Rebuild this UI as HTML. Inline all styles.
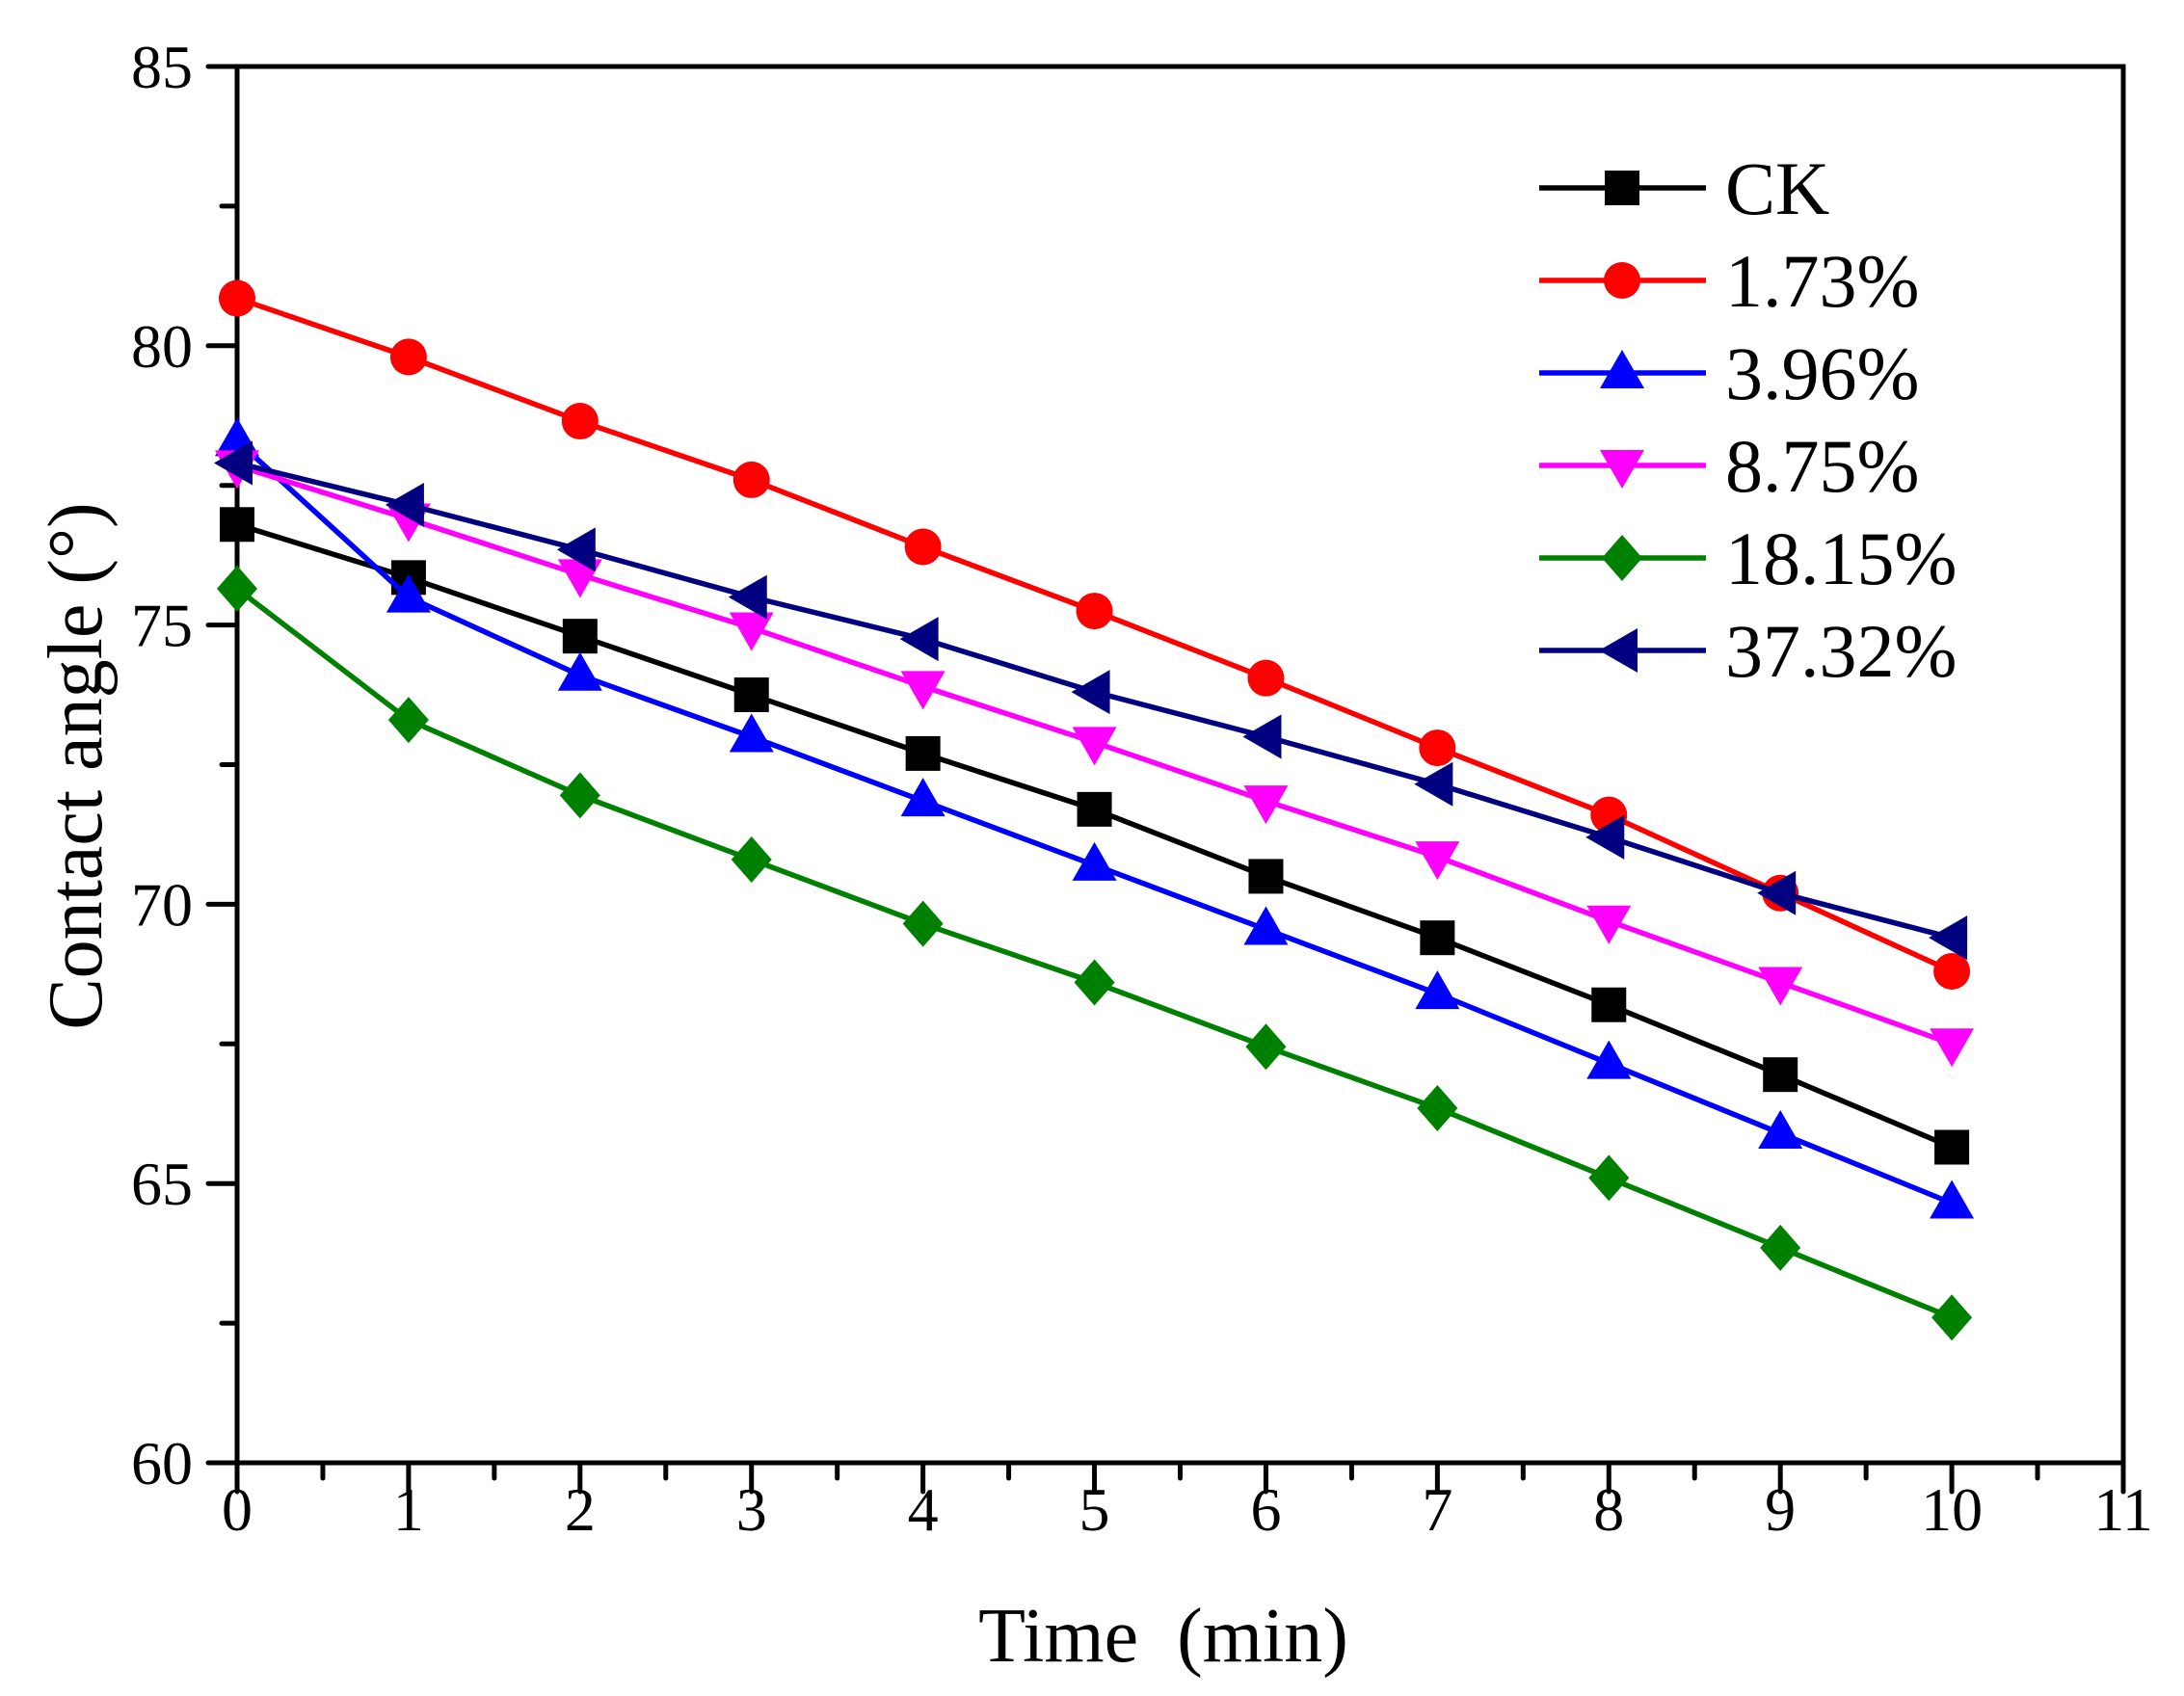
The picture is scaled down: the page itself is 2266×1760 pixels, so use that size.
<!DOCTYPE html>
<html><head><meta charset="utf-8"><style>
html,body{margin:0;padding:0;background:#fff;}
svg{display:block;font-family:"Liberation Serif",serif;}
</style></head><body>
<svg id="chart" width="2266" height="1760" viewBox="0 0 2266 1760"></svg>
<script>
const xValues = [0,1,2,3,4,5,6,7,8,9,10];
const seriesNames = ["CK","1.73%","3.96%","8.75%","18.15%","37.32%"];
const ckValues = [76.8,75.85,74.8,73.75,72.7,71.7,70.5,69.4,68.2,66.95,65.65];
const p173Values = [80.85,79.8,78.65,77.6,76.4,75.25,74.05,72.8,71.6,70.2,68.8];
const p396Values = [78.3,75.5,74.1,73.0,71.85,70.7,69.55,68.4,67.15,65.9,64.65];
const p875Values = [77.85,76.9,75.9,74.95,73.9,72.9,71.85,70.85,69.7,68.6,67.5];
const p1815Values = [75.65,73.3,71.95,70.8,69.65,68.6,67.45,66.35,65.1,63.85,62.6];
const p3732Values = [77.9,77.15,76.35,75.5,74.75,73.8,73.0,72.15,71.2,70.2,69.4];
const xTickLabels = ["0","1","2","3","4","5","6","7","8","9","10","11"];
const yTickLabels = ["60","65","70","75","80","85"];

const NS="http://www.w3.org/2000/svg";
const svg=document.getElementById('chart');
const L=246,R=2203,T=69,B=1518;
const xMin=0,xMax=11,yMin=60,yMax=85;
function sx(v){return L+(v-xMin)/(xMax-xMin)*(R-L);}
function sy(v){return B-(v-yMin)/(yMax-yMin)*(B-T);}
function el(tag,attrs,parent){const e=document.createElementNS(NS,tag);for(const k in attrs)e.setAttribute(k,attrs[k]);(parent||svg).appendChild(e);return e;}

const axes=el('g',{});


const frame=el('rect',{x:L,y:T,width:R-L,height:B-T,fill:'none',stroke:'#000','stroke-width':5},axes);



for(let i=0;i<=22;i++){
  const v=i*0.5,x=sx(v),major=i%2===0;
  const t=el('line',{x1:x,y1:B,x2:x,y2:B+(major?30:16),stroke:'#000','stroke-width':5,'stroke-linecap':'round'},axes);
  
  
  if(major){
    const lb=el('text',{x:x,y:1588,'text-anchor':'middle','font-size':64},axes);
    lb.textContent=xTickLabels[i/2];
    
    
  }
}
for(let i=0;i<=10;i++){
  const v=yMin+i*2.5,y=sy(v),major=i%2===0;
  const t=el('line',{x1:L,y1:y,x2:L-(major?30:16),y2:y,stroke:'#000','stroke-width':5,'stroke-linecap':'round'},axes);
  
  
  if(major){
    const lb=el('text',{x:200,y:y+22,'text-anchor':'end','font-size':64},axes);
    lb.textContent=yTickLabels[i/2];
    
    
  }
}
const xt=el('text',{x:1207,y:1724,'text-anchor':'middle','font-size':80,style:'white-space:pre'});
xt.textContent='Time  (min)';


const yt=el('text',{x:0,y:0,'text-anchor':'middle','font-size':80,transform:'translate(105,795) rotate(-90)'});
yt.textContent='Contact angle (°)';



function marker(g,type,x,y,color){
  let m;
  const s=18;
  if(type==='square') m=el('rect',{x:x-s,y:y-s,width:2*s,height:2*s,fill:color},g);
  else if(type==='circle') m=el('circle',{cx:x,cy:y,r:19,fill:color},g);
  else if(type==='up') m=el('polygon',{points:`${x},${y-24} ${x+23},${y+16} ${x-23},${y+16}`,fill:color},g);
  else if(type==='down') m=el('polygon',{points:`${x},${y+24} ${x+23},${y-16} ${x-23},${y-16}`,fill:color},g);
  else if(type==='diamond') m=el('polygon',{points:`${x},${y-24} ${x+21},${y} ${x},${y+24} ${x-21},${y}`,fill:color},g);
  else m=el('polygon',{points:`${x-24},${y} ${x+16},${y-23} ${x+16},${y+23}`,fill:color},g);
  return m;
}
const allSeries=[ckValues,p173Values,p396Values,p875Values,p1815Values,p3732Values];
const colors=['#000000','#ff0000','#0000ff','#ff00ff','#008000','#000080'];
const markers=['square','circle','up','down','diamond','left'];
const keys=['ck','1-73','3-96','8-75','18-15','37-32'];
allSeries.forEach((vals,si)=>{
  const g=el('g',{});
  
  
  const pts=vals.map((v,i)=>sx(xValues[i])+','+sy(v)).join(' ');
  const line=el('polyline',{points:pts,fill:'none',stroke:colors[si],'stroke-width':5.5},g);
  
  
  vals.forEach((v,i)=>{
    const m=marker(g,markers[si],sx(xValues[i]),sy(v),colors[si]);
    
    
  });
});
const lg=el('g',{});


seriesNames.forEach((n,i)=>{
  const y=195+96*i;
  const g=el('g',{},lg);
  
  
  el('line',{x1:1597,y1:y,x2:1770,y2:y,stroke:colors[i],'stroke-width':5.5},g);
  marker(g,markers[i],1683,y,colors[i]);
  const t=el('text',{x:1790,y:y+27,'font-size':78},g);
  t.textContent=n;
});
</script>
</body></html>
